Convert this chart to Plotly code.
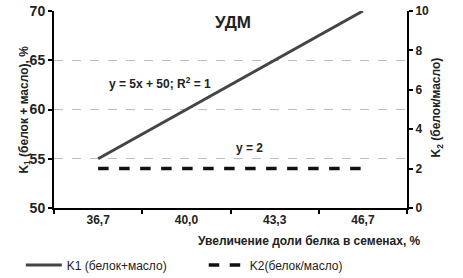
import plotly.graph_objects as go

categories = ["36,7", "40,0", "43,3", "46,7"]
k1_values = [55, 60, 65, 70]
k2_values = [2, 2, 2, 2]
k1_name = "K1 (белок+масло)"
k2_name = "K2(белок/масло)"

FONT = "Liberation Sans"

fig = go.Figure()
fig.add_trace(go.Scatter(x=categories, y=k1_values, mode="lines", name=k1_name,
                         line=dict(color="#454545", width=3), yaxis="y", legend="legend"))
fig.add_trace(go.Scatter(x=categories, y=k2_values, mode="lines", name=k2_name,
                         line=dict(color="#111111", width=3.5, dash="dash"), yaxis="y2",
                         legend="legend2"))

leg_common = dict(orientation="h", yref="container", xref="container", y=0.047,
                  xanchor="left", yanchor="middle", font=dict(size=12, color="#222"),
                  itemwidth=36, bgcolor="rgba(0,0,0,0)")

fig.update_layout(
    width=463, height=278,
    margin=dict(l=54, r=56, t=11, b=70, autoexpand=False),
    paper_bgcolor="white", plot_bgcolor="white",
    font=dict(family=FONT, size=12, color="#222"),
    showlegend=True,
    legend=dict(x=0.045, **leg_common),
    legend2=dict(x=0.44, **leg_common),
    xaxis=dict(type="category", tickson="boundaries", ticks="outside", ticklen=4,
               tickwidth=2, tickcolor="black", showline=True, linecolor="black", linewidth=2,
               showgrid=False, tickfont=dict(size=12, family=FONT, color="#222", weight="bold"),
               range=[-0.5, 3.5]),
    yaxis=dict(range=[50, 70], dtick=5, ticks="outside", ticklen=4, tickwidth=2,
               tickcolor="black", showline=True, linecolor="black", linewidth=2,
               showgrid=True, gridcolor="#bdbdbd", griddash="dash", gridwidth=1,
               tickfont=dict(size=14, family=FONT, color="#222", weight="bold"), zeroline=False),
    yaxis2=dict(range=[0, 10], dtick=2, overlaying="y", side="right", ticks="outside",
                ticklen=4, tickwidth=2, tickcolor="black", showline=True, linecolor="black",
                linewidth=2, showgrid=False, zeroline=False,
                tickfont=dict(size=12, family=FONT, color="#222", weight="bold")),
)

anns = [
    dict(text="<b>УДМ</b>", x=0.507, y=0.943, size=17),
    dict(text="<b>y = 5x + 50; R<sup>2</sup> = 1</b>", x=0.30, y=0.633, size=12),
    dict(text="<b>y = 2</b>", x=0.555, y=0.303, size=12),
    dict(text="<b>Увеличение доли белка в семенах, %</b>", x=0.725, y=-0.165, size=12),
]
for a in anns:
    fig.add_annotation(text=a["text"], x=a["x"], y=a["y"], xref="paper", yref="paper",
                       showarrow=False, font=dict(size=a["size"], family=FONT, color="#222"),
                       xanchor="center", yanchor="middle")

fig.add_annotation(text="<b>K<sub>1</sub> (белок + масло), %</b>", x=-0.113, y=0.5,
                   xref="paper", yref="paper", textangle=-90, showarrow=False,
                   font=dict(size=12, family=FONT, color="#222"))
fig.add_annotation(text="<b>K<sub>2</sub> (белок/масло)</b>", x=1.113, y=0.51,
                   xref="paper", yref="paper", textangle=-90, showarrow=False,
                   font=dict(size=12, family=FONT, color="#222"))

fig.write_html("out.html", config={"displayModeBar": False},
               post_script="document.body.style.margin='0px';")
